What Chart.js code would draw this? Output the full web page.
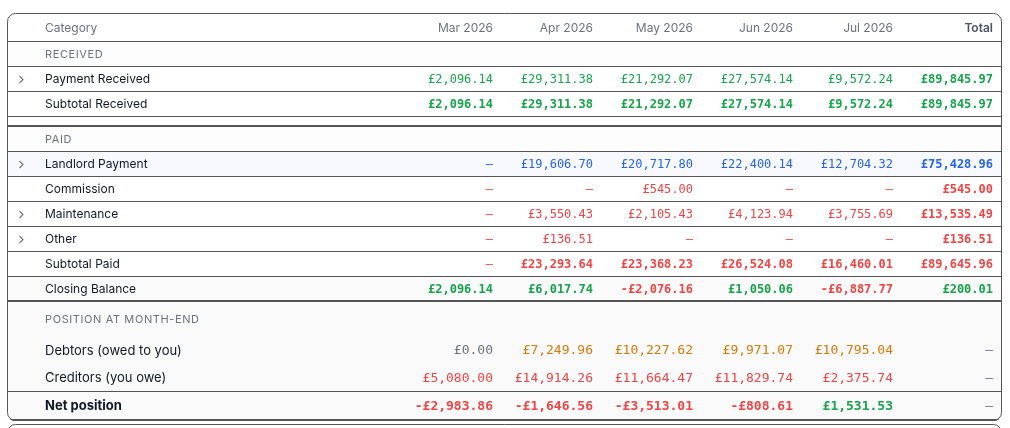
<!DOCTYPE html>
<html><head><meta charset="utf-8">
<script src="https://cdn.jsdelivr.net/npm/chart.js@4.4.1/dist/chart.umd.min.js"></script>
<style>html,body{margin:0;padding:0;background:#fff;overflow:hidden}canvas{display:block}</style>
</head><body>
<canvas id="c" width="1010" height="428" style="width:1010px;height:428px"></canvas>
<script>
// ---------- DATA ----------
const categoryHeader = 'Category';
const months = ['Mar 2026', 'Apr 2026', 'May 2026', 'Jun 2026', 'Jul 2026'];
const totalHeader = 'Total';

const paymentReceived  = [2096.14, 29311.38, 21292.07, 27574.14, 9572.24];
const subtotalReceived = [2096.14, 29311.38, 21292.07, 27574.14, 9572.24];
const landlordPayment  = [null, 19606.70, 20717.80, 22400.14, 12704.32];
const commission       = [null, null, 545.00, null, null];
const maintenance      = [null, 3550.43, 2105.43, 4123.94, 3755.69];
const other            = [null, 136.51, null, null, null];
const subtotalPaid     = [null, 23293.64, 23368.23, 26524.08, 16460.01];
const closingBalance   = [2096.14, 6017.74, -2076.16, 1050.06, -6887.77];
const debtors          = [0.00, 7249.96, 10227.62, 9971.07, 10795.04];
const creditors        = [5080.00, 14914.26, 11664.47, 11829.74, 2375.74];
const netPosition      = [-2983.86, -1646.56, -3513.01, -808.61, 1531.53];

const totalPaymentReceived  = 89845.97;
const totalSubtotalReceived = 89845.97;
const totalLandlordPayment  = 75428.96;
const totalCommission       = 545.00;
const totalMaintenance      = 13535.49;
const totalOther            = 136.51;
const totalSubtotalPaid     = 89645.96;
const totalClosingBalance   = 200.01;
const totalDebtors = null, totalCreditors = null, totalNetPosition = null;

// ---------- STRUCTURE / STYLE ----------
const COL = {green:'#16a34a', red:'#ef4444', blue:'#2563eb', orange:'#d97706', gray:'#6b7280', text:'#111827', line:'#555555'};
const H = {header:28, section:25, data:25, spacer:10, posHeader:35, pos1:28, pos2:27, pos3:29};

const rows = [
  {kind:'header', border:'thin'},
  {kind:'section', label:'RECEIVED', border:'thin', bg:'#fdfdfd'},
  {kind:'data', label:'Payment Received', values:paymentReceived, total:totalPaymentReceived, tone:'green', chevron:true, border:'thin'},
  {kind:'data', label:'Subtotal Received', values:subtotalReceived, total:totalSubtotalReceived, tone:'green', bold:true, border:'thin'},
  {kind:'spacer', border:'thick'},
  {kind:'section', label:'PAID', border:'thin', bg:'#fdfdfd'},
  {kind:'data', label:'Landlord Payment', values:landlordPayment, total:totalLandlordPayment, tone:'blue', chevron:true, border:'thin', bg:'#f7f9fe'},
  {kind:'data', label:'Commission', values:commission, total:totalCommission, tone:'red', border:'thin'},
  {kind:'data', label:'Maintenance', values:maintenance, total:totalMaintenance, tone:'red', chevron:true, border:'thin'},
  {kind:'data', label:'Other', values:other, total:totalOther, tone:'red', chevron:true, border:'thin'},
  {kind:'data', label:'Subtotal Paid', values:subtotalPaid, total:totalSubtotalPaid, tone:'red', bold:true, border:'thin'},
  {kind:'data', label:'Closing Balance', values:closingBalance, total:totalClosingBalance, tone:'sign', bold:true, border:'thick', bg:'#fafafa'},
  {kind:'posHeader', label:'POSITION AT MONTH-END', bg:'#fafafa'},
  {kind:'pos1', label:'Debtors (owed to you)', values:debtors, total:totalDebtors, tone:'debt', big:true, bg:'#fafafa'},
  {kind:'pos2', label:'Creditors (you owe)', values:creditors, total:totalCreditors, tone:'red', big:true, border:'thin', bg:'#fafafa'},
  {kind:'pos3', label:'Net position', values:netPosition, total:totalNetPosition, tone:'sign', big:true, bold:true, labelBold:true, border:'thick', bg:'#fafafa'}
];

// cumulative row positions (in table units)
let acc = 0;
rows.forEach(r => { r.top = acc; acc += H[r.kind]; r.bottom = acc; r.center = (r.top + r.bottom) / 2; });
const TABLE_H = acc;

function fmt(v) {
  if (v === null || v === undefined) return '\u2014';
  return (v < 0 ? '-' : '') + '\u00a3' + Math.abs(v).toLocaleString('en-GB', {minimumFractionDigits:2, maximumFractionDigits:2});
}
function toneColor(tone, v, isTotalPos) {
  if (isTotalPos) return COL.gray;
  if (tone === 'sign') return v < 0 ? COL.red : COL.green;
  if (tone === 'debt') return (v === 0 || v === null) ? COL.gray : COL.orange;
  return COL[tone];
}

// cells as points placed by the chart scales (x = right edge of column, y = row center)
const cells = [];
rows.forEach(r => {
  if (!r.values) return;
  r.values.forEach((v, i) => cells.push({x: i + 1, y: r.center, text: fmt(v), color: toneColor(r.tone, v, false), bold: !!r.bold && v !== null, big: !!r.big}));
  cells.push({x: 6, y: r.center, text: fmt(r.total), color: toneColor(r.tone, r.total, r.total === null), bold: r.total !== null, big: !!r.big});
});

const SANS = 'Inter, "Noto Sans", sans-serif';
const MONO = '"DejaVu Sans Mono", monospace';
const TY = 1; // text baseline nudge

const tablePlugin = {
  id: 'table',
  beforeDatasetsDraw(chart) {
    const {ctx, chartArea: a, scales: {x, y}} = chart;
    const L = a.left, R = a.right + 1, W = R - L;
    ctx.save();
    ctx.beginPath();
    ctx.roundRect(L, y.getPixelForValue(0), W, y.getPixelForValue(TABLE_H) - y.getPixelForValue(0) + 1, 8);
    ctx.clip();
    rows.forEach(r => {
      if (!r.bg) return;
      const t = y.getPixelForValue(r.top), b = y.getPixelForValue(r.bottom);
      ctx.fillStyle = r.bg;
      ctx.fillRect(L, t, W, b - t);
    });
    ctx.fillStyle = COL.line;
    rows.forEach(r => {
      const b = Math.round(y.getPixelForValue(r.bottom));
      if (r.border === 'thin') ctx.fillRect(L, b, W, 1);
      else if (r.border === 'thick') ctx.fillRect(L, b - 1, W, 2);
    });
    ctx.restore();
    ctx.save();
    ctx.strokeStyle = COL.line;
    ctx.lineWidth = 1;
    ctx.beginPath();
    ctx.roundRect(L + 0.5, Math.round(y.getPixelForValue(0)) + 0.5, W - 1, Math.round(y.getPixelForValue(TABLE_H)) - Math.round(y.getPixelForValue(0)), 8);
    ctx.stroke();
    ctx.beginPath();
    ctx.roundRect(L + 0.5, Math.round(y.getPixelForValue(TABLE_H)) + 4.5, W - 1, 60, 8);
    ctx.stroke();
    ctx.restore();
  },
  afterDatasetsDraw(chart) {
    const {ctx, chartArea: a, scales: {x, y}} = chart;
    const L = a.left;
    const labelX = L + 38, chevX = L + 14, pad = 8;
    ctx.save();
    ctx.textBaseline = 'middle';
    const hr = rows[0], hy = y.getPixelForValue(hr.center) + TY;
    ctx.font = '400 12px ' + SANS;
    ctx.fillStyle = COL.gray;
    ctx.textAlign = 'left';
    ctx.fillText(categoryHeader, labelX, hy);
    ctx.textAlign = 'right';
    months.forEach((m, i) => ctx.fillText(m, x.getPixelForValue(i + 1) - pad, hy));
    ctx.font = '600 12px ' + SANS;
    ctx.fillStyle = '#4b5563';
    ctx.fillText(totalHeader, x.getPixelForValue(6) - pad, hy);
    rows.forEach(r => {
      if (!r.label) return;
      const cy = y.getPixelForValue(r.center) + TY;
      ctx.textAlign = 'left';
      if (r.kind === 'section' || r.kind === 'posHeader') {
        ctx.font = '400 11px ' + SANS;
        ctx.fillStyle = COL.gray;
        ctx.letterSpacing = '0.6px';
        ctx.fillText(r.label, labelX, cy);
        ctx.letterSpacing = '0px';
      } else {
        ctx.font = (r.labelBold ? '700 ' : '400 ') + (r.big ? '13px ' : '12px ') + SANS;
        ctx.fillStyle = COL.text;
        ctx.fillText(r.label, labelX, cy);
      }
      if (r.chevron) {
        ctx.strokeStyle = COL.gray;
        ctx.lineWidth = 1.1;
        ctx.beginPath();
        ctx.moveTo(chevX - 1.5, cy - 3.5);
        ctx.lineTo(chevX + 2, cy);
        ctx.lineTo(chevX - 1.5, cy + 3.5);
        ctx.stroke();
      }
    });
    const meta = chart.getDatasetMeta(0);
    meta.data.forEach((el, i) => {
      const c = cells[i];
      ctx.font = (c.bold ? '700 ' : '400 ') + (c.big ? '13px ' : '12px ') + MONO;
      ctx.fillStyle = c.color;
      ctx.textAlign = 'right';
      ctx.fillText(c.text, el.x - pad, el.y + TY);
    });
    ctx.restore();
  }
};

new Chart(document.getElementById('c'), {
  type: 'scatter',
  data: {datasets: [{data: cells, pointRadius: 0, pointHoverRadius: 0, showLine: false}]},
  options: {
    responsive: false, animation: false, events: [], devicePixelRatio: 1,
    layout: {padding: {left: 7, right: 9, top: 13, bottom: 428 - 13 - TABLE_H}},
    plugins: {legend: {display: false}, tooltip: {enabled: false}},
    scales: {
      x: {type: 'linear', display: false, min: -3.94, max: 6},
      y: {type: 'linear', display: false, min: 0, max: TABLE_H, reverse: true}
    }
  },
  plugins: [tablePlugin]
});
</script>
</body></html>
